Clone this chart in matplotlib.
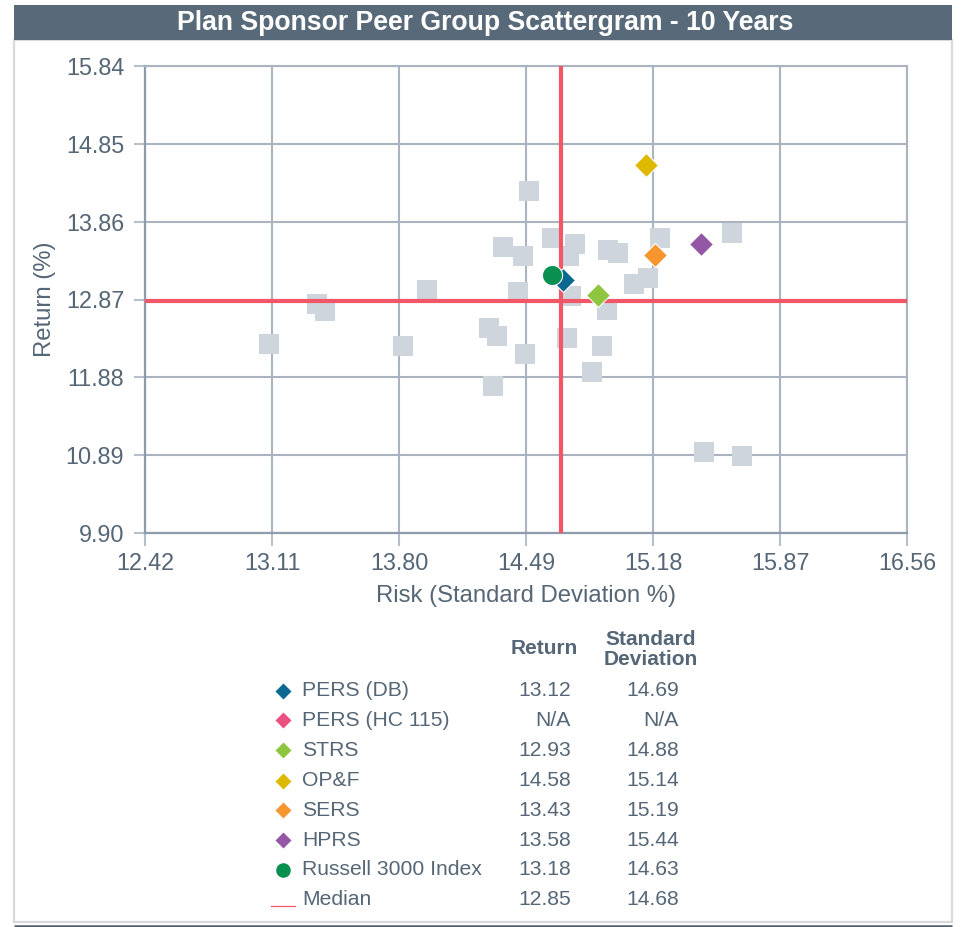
import matplotlib
matplotlib.use('Agg')
import matplotlib.pyplot as plt
from matplotlib.patches import Rectangle

plt.rcParams['font.family'] = ['Liberation Sans', 'DejaVu Sans']

# ---------------- data ----------------
title = "Plan Sponsor Peer Group Scattergram - 10 Years"
x_ticks = [12.42, 13.11, 13.80, 14.49, 15.18, 15.87, 16.56]
y_ticks = [9.90, 10.89, 11.88, 12.87, 13.86, 14.85, 15.84]

peer_risk = [14.504, 14.365, 14.472, 14.630, 14.756, 14.724, 14.937, 14.991,
             15.218, 15.608, 15.078, 15.154, 14.449, 14.733, 14.928, 14.711,
             14.905, 14.483, 14.850, 14.309, 13.950, 13.356, 13.400, 13.095,
             13.822, 14.287, 14.331, 15.457, 15.662]
peer_return = [14.254, 13.542, 13.419, 13.648, 13.572, 13.423, 13.500, 13.465,
               13.648, 13.720, 13.063, 13.140, 12.965, 12.915, 12.736, 12.376,
               12.279, 12.177, 11.952, 11.770, 12.991, 12.813, 12.728, 12.304,
               12.279, 12.504, 12.406, 10.934, 10.879]

names = ["PERS (DB)", "PERS (HC 115)", "STRS", "OP&F", "SERS", "HPRS",
         "Russell 3000 Index"]
returns = [13.12, None, 12.93, 14.58, 13.43, 13.58, 13.18]
risks = [14.69, None, 14.88, 15.14, 15.19, 15.44, 14.63]
colors = ["#0B6890", "#EC5080", "#8EC63F", "#DDB900", "#F7962F", "#9457A5",
          "#07904F"]
markers = ["D", "D", "D", "D", "D", "D", "o"]

median_return = 12.85
median_risk = 14.68

# ---------------- style ----------------
TEXT = "#556676"
GRID = "#AAB4C0"
SPINE = "#8E9BAA"
RED = "#F25767"
SQUARE = "#CFD5DD"

W, H = 963, 927
fig = plt.figure(figsize=(W / 100, H / 100), dpi=100)

# background decoration in pixel coordinates
bg = fig.add_axes([0, 0, 1, 1], zorder=0)
bg.set_xlim(0, W)
bg.set_ylim(H, 0)
bg.axis('off')
bg.add_patch(Rectangle((14, 40), 938, 882, facecolor='white',
                       edgecolor='#D9D9D9', lw=1.6))
bg.add_patch(Rectangle((14, 5), 938, 35, facecolor='#586A79', edgecolor='none'))
bg.plot([14, 952], [925.5, 925.5], color='#4F5F6E', lw=1.8, solid_capstyle='butt')
bg.text(485, 22.5, title, color='white', fontsize=19.2, fontweight='bold',
        ha='center', va='center')

# ---------------- main scatter ----------------
L, R, T, B = 145, 907, 66, 533
ax = fig.add_axes([L / W, 1 - B / H, (R - L) / W, (B - T) / H], zorder=1)
ax.set_xlim(x_ticks[0], x_ticks[-1])
ax.set_ylim(y_ticks[0], y_ticks[-1])
ax.set_xticks(x_ticks)
ax.set_yticks(y_ticks)
ax.set_xticklabels([f"{v:.2f}" for v in x_ticks])
ax.set_yticklabels([f"{v:.2f}" for v in y_ticks])
ax.grid(True, color=GRID, lw=1.5, zorder=0)
ax.set_axisbelow(True)
for s in ['top', 'right']:
    ax.spines[s].set_color(GRID)
    ax.spines[s].set_linewidth(1.5)
for s in ['left', 'bottom']:
    ax.spines[s].set_color(SPINE)
    ax.spines[s].set_linewidth(1.6)
ax.tick_params(axis='y', length=8, width=1.5, color='#B7C0CA', pad=7,
               labelsize=16.8, labelcolor=TEXT)
ax.tick_params(axis='x', length=9, width=1.5, color='#B7C0CA', pad=5,
               labelsize=16.8, labelcolor=TEXT)

ax.scatter(peer_risk, peer_return, marker='s', s=205, color=SQUARE,
           linewidths=0, zorder=2)
ax.axvline(median_risk, color=RED, lw=3, zorder=3)
ax.axhline(median_return, color=RED, lw=3, zorder=3)

for n, r, sd, c, m in zip(names, returns, risks, colors, markers):
    if r is None:
        continue
    if m == 'o':
        ax.plot(sd, r, marker='o', ms=14.5, color=c, mec='white', mew=0.8,
                ls='none', zorder=4)
    else:
        ax.plot(sd, r, marker='D', ms=12.5, color=c, mec='white', mew=0.8,
                ls='none', zorder=4)

ax.set_xlabel("Risk (Standard Deviation %)", fontsize=17.2, color=TEXT, labelpad=7)
ax.set_ylabel("Return (%)", fontsize=17.2, color=TEXT, labelpad=7)

# ---------------- legend table ----------------
FS = 15.2
row_y = [690.5, 720, 750, 780.5, 810, 840, 869.5]
bg.text(544, 649, "Return", color=TEXT, fontsize=15, fontweight='bold',
        ha='center', va='center')
bg.text(651, 649.5, "Standard\nDeviation", color=TEXT, fontsize=15,
        fontweight='bold', ha='center', va='center', linespacing=1.12)
for y, n, r, sd, c, m in zip(row_y, names, returns, risks, colors, markers):
    if m == 'o':
        bg.plot(283, y, marker='o', ms=10.5, color=c, mec='none', ls='none')
    else:
        bg.plot(283, y, marker='D', ms=8, color=c, mec='none', ls='none')
    bg.text(302, y, n, color=TEXT, fontsize=FS, ha='left', va='center')
    bg.text(571, y, "N/A" if r is None else f"{r:.2f}", color=TEXT,
            fontsize=FS, ha='right', va='center')
    bg.text(679, y, "N/A" if sd is None else f"{sd:.2f}", color=TEXT,
            fontsize=FS, ha='right', va='center')
my = 899.5
bg.plot([271, 295], [906, 906], color=RED, lw=0.9)
bg.text(302, my, "Median", color=TEXT, fontsize=FS, ha='left', va='center')
bg.text(571, my, f"{median_return:.2f}", color=TEXT, fontsize=FS,
        ha='right', va='center')
bg.text(679, my, f"{median_risk:.2f}", color=TEXT, fontsize=FS,
        ha='right', va='center')

fig.savefig("out.png", dpi=100)
